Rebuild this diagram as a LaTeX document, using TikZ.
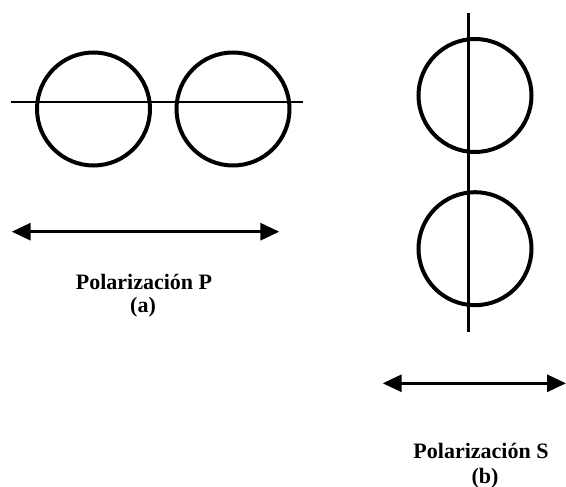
\documentclass[tikz,border=0pt]{standalone}
\usepackage{fontspec}
\setmainfont{Liberation Serif}
\usetikzlibrary{arrows.meta}
\tikzset{
  ring/.style={black, line width=4pt},
  axis line/.style={black, line width=2.6pt},
  pol arrow/.style={black, line width=3.2pt, {Triangle[length=19pt,width=17pt]}-{Triangle[length=19pt,width=17pt]}},
  caption/.style={anchor=base, inner sep=0pt, font=\fontsize{22}{24}\selectfont\bfseries}
}
\begin{document}
\begin{tikzpicture}[x=1pt,y=-1pt]
\useasboundingbox (0,0) rectangle (566,487);
% (a) polarizacion P
\coordinate (pL) at (10.7,102);
\coordinate (pR) at (302.7,102);
\draw [ring] (93.5,109) circle (56.5);
\draw [ring] (233,109) circle (56.5);
\draw [axis line] (pL) -- (pR);
\coordinate (aL) at (11.7,231.7);
\coordinate (aR) at (279.3,231.7);
\draw [pol arrow] (aL) -- (aR);
\node [caption] (polP) at (144,289) {Polarizaci\'on P};
\node [caption] (labA) at (143,312) {(a)};
% (b) polarizacion S
\coordinate (sT) at (468.3,13);
\coordinate (sB) at (468.3,332);
\draw [ring] (475,95.5) circle (56.5);
\draw [ring] (475,248.7) circle (56.5);
\draw [axis line] (sT) -- (sB);
\coordinate (bL) at (382.7,383.3);
\coordinate (bR) at (566,383.3);
\draw [pol arrow] (bL) -- (bR);
\node [caption] (polS) at (481,458) {Polarizaci\'on S};
\node [caption] (labB) at (485,483) {(b)};
\end{tikzpicture}
\end{document}
